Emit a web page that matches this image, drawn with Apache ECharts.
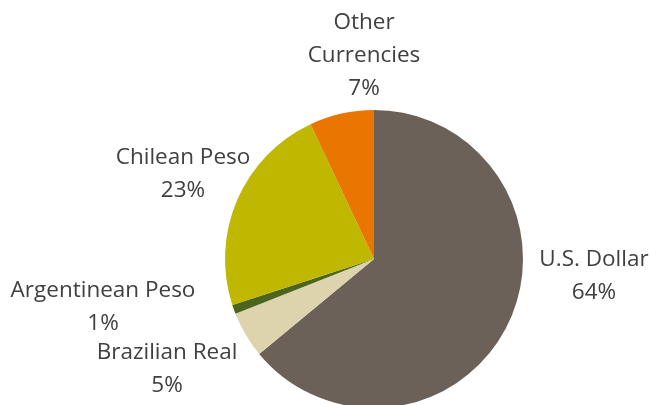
<!DOCTYPE html>
<html>
<head>
<meta charset="utf-8">
<script src="https://cdn.jsdelivr.net/npm/echarts@6/dist/echarts.min.js"></script>
<style>
  html, body { margin: 0; padding: 0; background: #fff; }
  #chart { width: 666px; height: 405px; }
</style>
</head>
<body>
<div id="chart"></div>
<script>
// currency share, clockwise from 12 o'clock
const names = ['U.S. Dollar', 'Brazilian Real', 'Argentinean Peso', 'Chilean Peso', 'Other\nCurrencies'];
const shares = [64, 5, 1, 23, 7];
const colors = ['#6b6158', '#ddd3ad', '#4b661c', '#c0b800', '#e97600'];

// where each label sits (centre of the text block)
const labelPos = [[594, 276], [167, 369], [103, 307], [183, 174], [364, 56]];

const chart = echarts.init(document.getElementById('chart'));
chart.setOption({
  backgroundColor: '#ffffff',
  animation: false,
  series: [{
    type: 'pie',
    center: [374, 259],
    radius: 149,
    startAngle: 90,
    clockwise: true,
    label: {
      show: true,
      position: 'outside',
      formatter: p => p.name + '\n' + p.value + '%',
      fontFamily: 'Open Sans',
      fontSize: 22.5,
      lineHeight: 33,
      color: '#404040',
      align: 'center',
      overflow: 'none'
    },
    labelLine: { show: false },
    labelLayout: p => ({
      x: labelPos[p.dataIndex][0],
      y: labelPos[p.dataIndex][1],
      align: 'center',
      verticalAlign: 'middle'
    }),
    itemStyle: { borderWidth: 0 },
    emphasis: { disabled: true },
    data: names.map((n, i) => ({ name: n, value: shares[i], itemStyle: { color: colors[i] } }))
  }]
});
</script>
</body>
</html>
